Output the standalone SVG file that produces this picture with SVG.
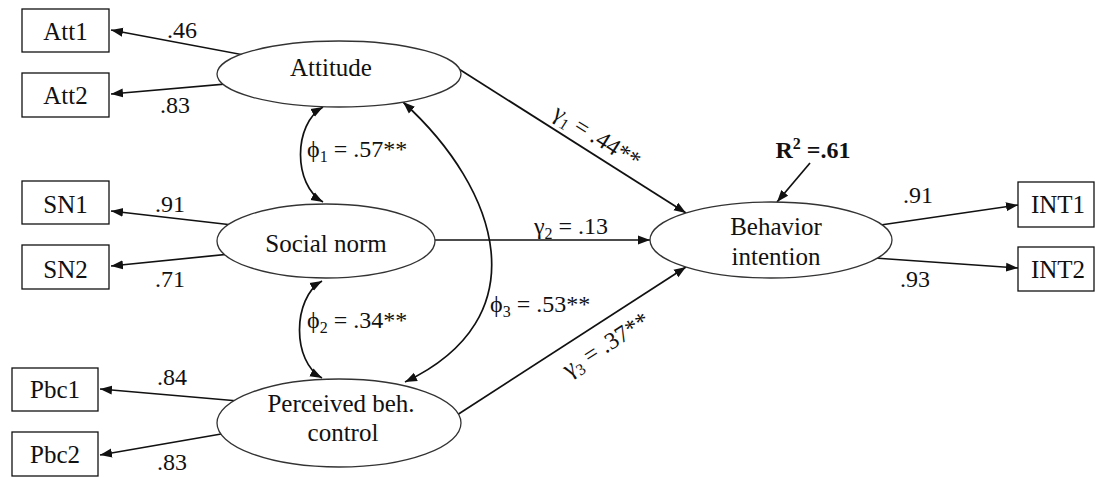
<svg xmlns="http://www.w3.org/2000/svg" width="1098" height="477" viewBox="0 0 1098 477" font-family="'Liberation Serif', serif" font-size="24">
<style>
text{font-family:'Liberation Serif','Times New Roman',serif;fill:#111;font-size:24px}
.n{font-size:25px}
.m{text-anchor:middle}
.b{font-weight:bold}
.box{fill:#fff;stroke:#111;stroke-width:1.3}
.ell{fill:#fff;stroke:#333;stroke-width:1.3}
.c{fill:none;stroke:#111;stroke-width:1.7}
.a{marker-end:url(#ah)}
.d{marker-start:url(#ah);marker-end:url(#ah)}
.sub{font-size:16px}
</style>
<defs>
<marker id="ah" markerUnits="userSpaceOnUse" markerWidth="13" markerHeight="11" viewBox="0 0 13 11" refX="12" refY="5" orient="auto-start-reverse">
<path d="M0,0.5 L12,5 L0,9.5 Z" fill="#111"/>
</marker>
</defs>

<g id="connectors">
<line class="c a" x1="260" y1="58" x2="111" y2="30"/>
<line class="c a" x1="260" y1="81" x2="111" y2="94"/>
<line class="c a" x1="250" y1="227" x2="111" y2="211"/>
<line class="c a" x1="250" y1="252" x2="111" y2="266"/>
<line class="c a" x1="250" y1="402" x2="100" y2="389"/>
<line class="c a" x1="250" y1="429" x2="100" y2="455"/>
<line class="c a" x1="440" y1="57" x2="686" y2="213"/>
<line class="c a" x1="420" y1="240" x2="650" y2="240"/>
<line class="c a" x1="440" y1="426" x2="686" y2="267"/>
<line class="c a" x1="860" y1="228" x2="1018" y2="205"/>
<line class="c a" x1="860" y1="257" x2="1018" y2="268"/>
<line class="c a" x1="810" y1="163" x2="777" y2="202"/>
<path class="c d" d="M323,107 C293,124 293,185 323,202"/>
<path class="c d" d="M322,281 C292,298 292,362 322,378"/>
<path class="c d" d="M403,102 C500,190 540,318 405,382"/>
<text x="182" y="38" class="m">.46</text>
<text x="175" y="113" class="m">.83</text>
<text x="170" y="212" class="m">.91</text>
<text x="170" y="287" class="m">.71</text>
<text x="172" y="385" class="m">.84</text>
<text x="172" y="470" class="m">.83</text>
<text x="918" y="203" class="m">.91</text>
<text x="915" y="287" class="m">.93</text>
<text x="307" y="157">ϕ<tspan class="sub" dy="5">1</tspan><tspan dy="-5"> = .57**</tspan></text>
<text x="307" y="328">ϕ<tspan class="sub" dy="5">2</tspan><tspan dy="-5"> = .34**</tspan></text>
<text x="490" y="312">ϕ<tspan class="sub" dy="5">3</tspan><tspan dy="-5"> = .53**</tspan></text>
<text x="571" y="234" class="m">γ<tspan class="sub" dy="5">2</tspan><tspan dy="-5"> = .13</tspan></text>
<text class="m" transform="translate(593,143) rotate(32.4)">γ<tspan class="sub" dy="5">1</tspan><tspan dy="-5"> = .44**</tspan></text>
<text class="m" transform="translate(610,351) rotate(-32.7)">γ<tspan class="sub" dy="5">3</tspan><tspan dy="-5"> = .37**</tspan></text>
<text x="813" y="158" class="m b">R<tspan class="sub" dy="-9">2</tspan><tspan dy="9"> =.61</tspan></text>
</g>

<g id="Att1"><rect class="box" x="22" y="9" width="87" height="43"/><text x="65.5" y="40" class="m n">Att1</text></g>
<g id="Att2"><rect class="box" x="22" y="73" width="87" height="44"/><text x="65.5" y="104" class="m n">Att2</text></g>
<g id="SN1"><rect class="box" x="22" y="181" width="87" height="43"/><text x="65.5" y="213" class="m n">SN1</text></g>
<g id="SN2"><rect class="box" x="22" y="245" width="87" height="44"/><text x="65.5" y="278" class="m n">SN2</text></g>
<g id="Pbc1"><rect class="box" x="12" y="368" width="86" height="43"/><text x="55" y="398" class="m n">Pbc1</text></g>
<g id="Pbc2"><rect class="box" x="12" y="432" width="86" height="44"/><text x="55" y="463" class="m n">Pbc2</text></g>
<g id="INT1"><rect class="box" x="1018" y="182" width="76" height="45"/><text x="1058" y="213" class="m n">INT1</text></g>
<g id="INT2"><rect class="box" x="1018" y="247" width="76" height="44"/><text x="1058" y="278" class="m n">INT2</text></g>

<g id="Attitude"><ellipse class="ell" cx="339" cy="74" rx="122" ry="33"/><text x="331" y="76" class="m n">Attitude</text></g>
<g id="SocialNorm"><ellipse class="ell" cx="326" cy="241" rx="109" ry="37"/><text x="326" y="252" class="m n">Social norm</text></g>
<g id="PBC"><ellipse class="ell" cx="339" cy="423" rx="122" ry="44"/><text x="341" y="412" class="m n">Perceived beh.</text><text x="343" y="441" class="m n">control</text></g>
<g id="BI"><ellipse class="ell" cx="771" cy="240" rx="121" ry="38"/><text x="776" y="235" class="m n">Behavior</text><text x="776" y="265" class="m n">intention</text></g>
</svg>
